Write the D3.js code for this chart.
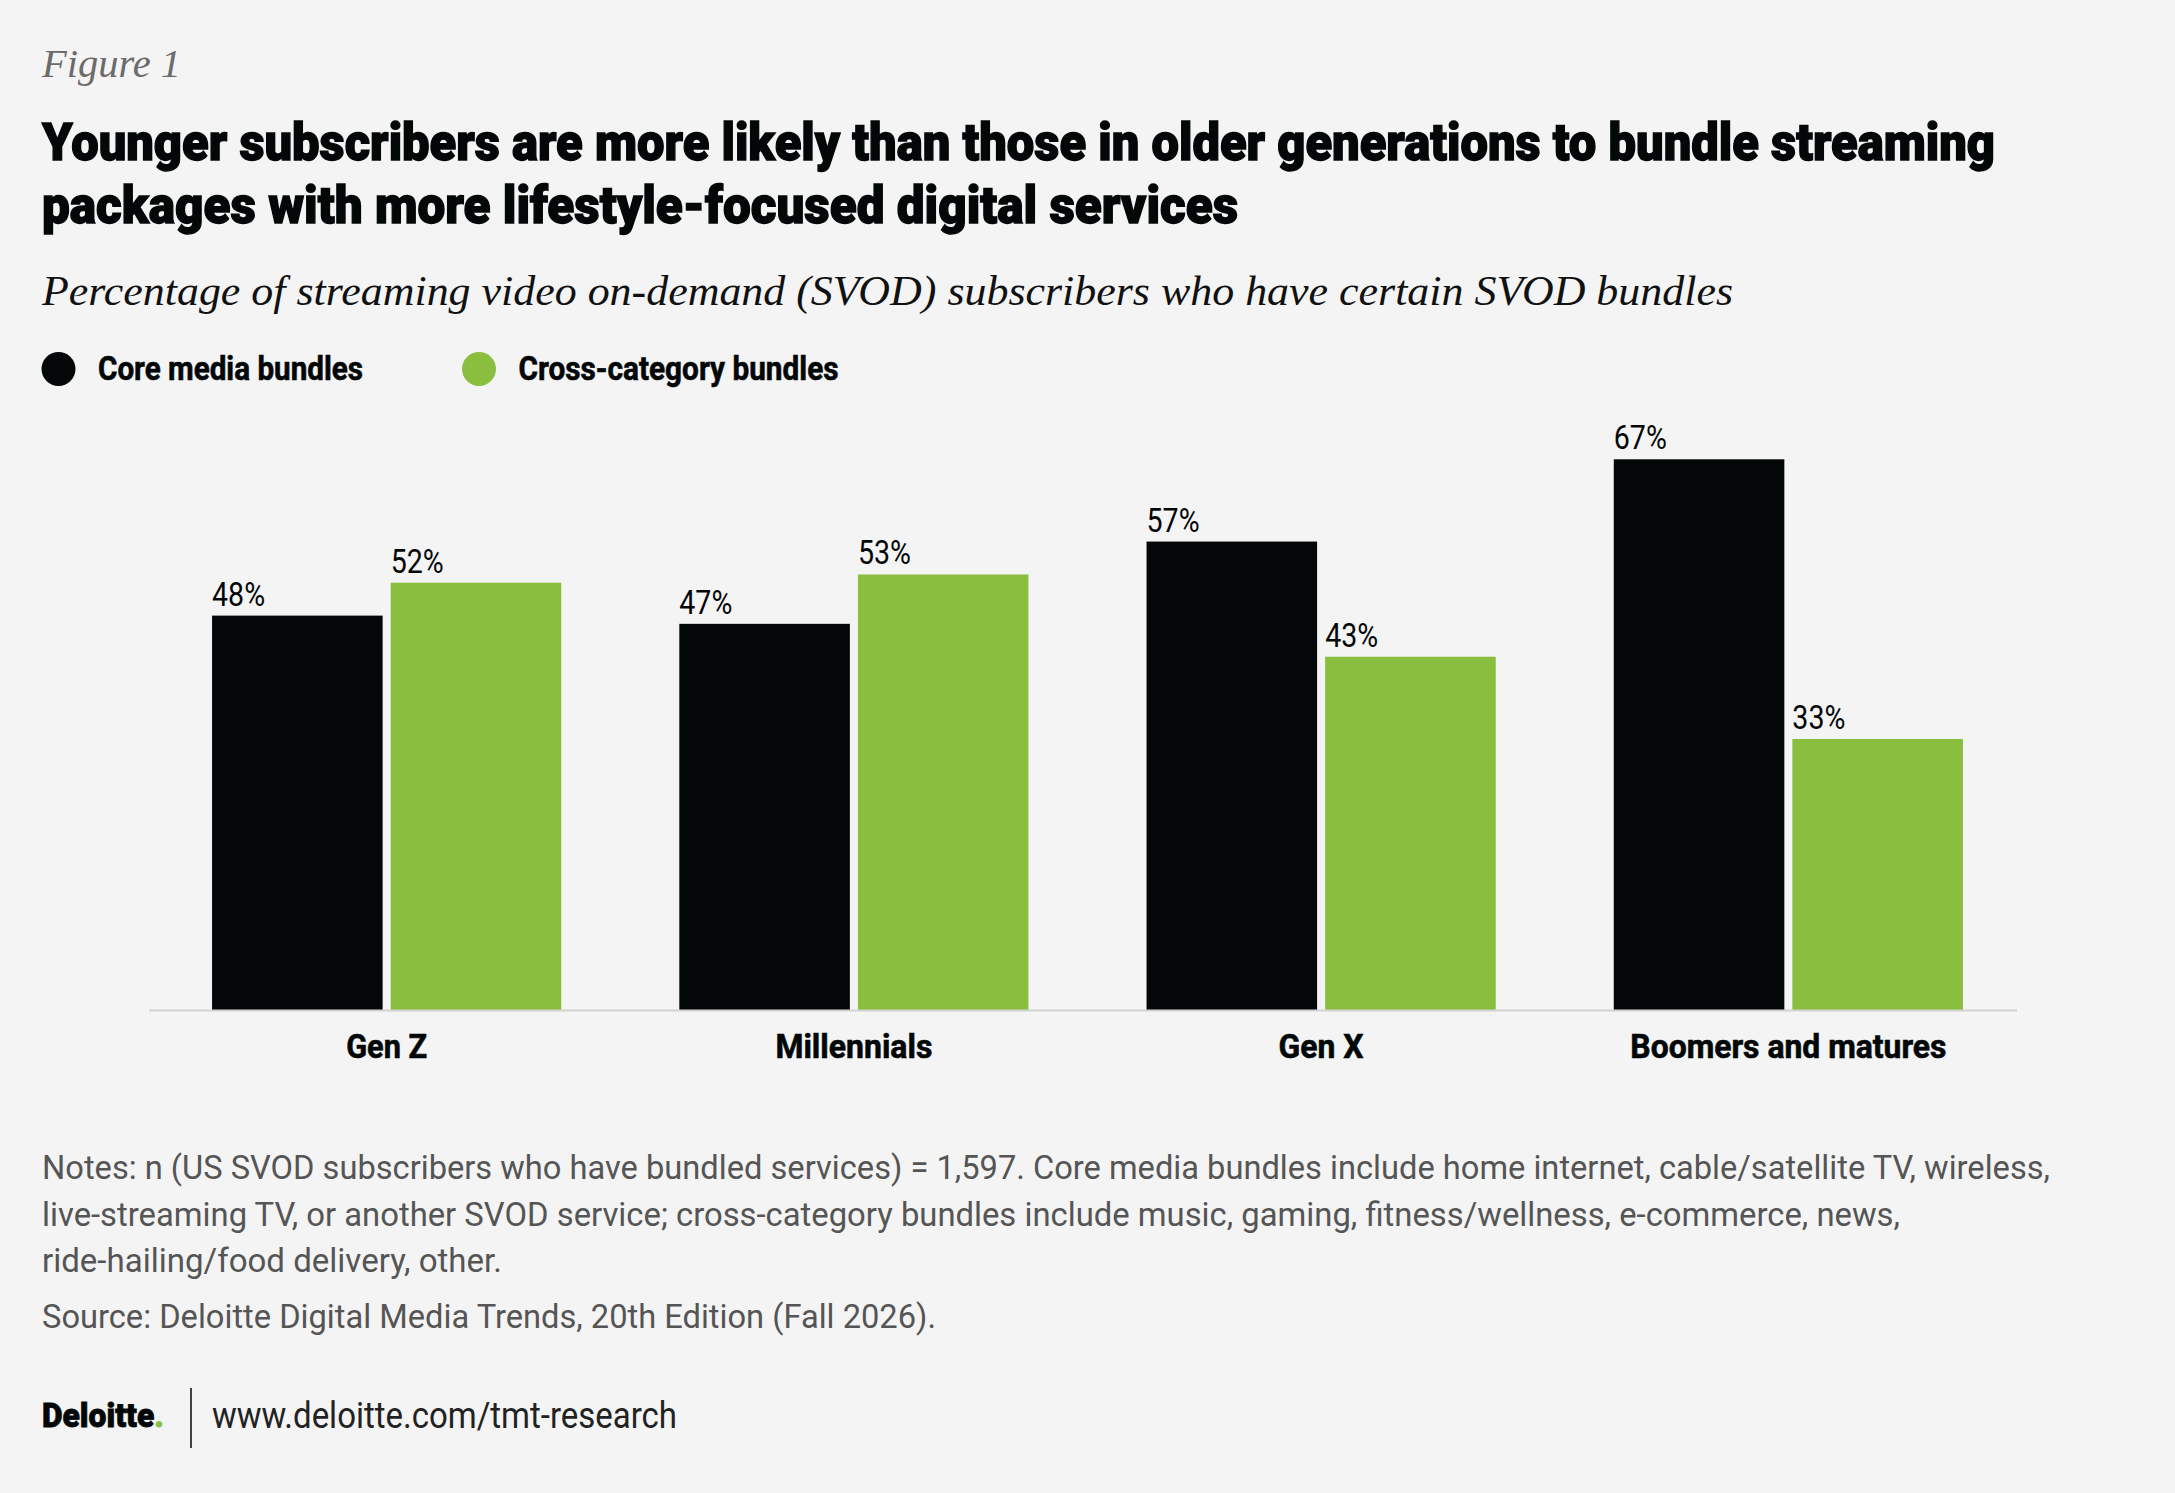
<!DOCTYPE html>
<html>
<head>
<meta charset="utf-8">
<script src="https://cdn.jsdelivr.net/npm/d3@7"></script>
<style>
  html, body { margin: 0; padding: 0; background: #f4f4f4; }
  svg { display: block; }
</style>
</head>
<body>
<div id="chart"></div>
<script>
// Chart values
const categories = ["Gen Z", "Millennials", "Gen X", "Boomers and matures"];
const seriesNames = ["Core media bundles", "Cross-category bundles"];
const coreValues = [48, 47, 57, 67];
const crossValues = [52, 53, 43, 33];

const figureLabel = "Figure 1";
const titleLines = [
  "Younger subscribers are more likely than those in older generations to bundle streaming",
  "packages with more lifestyle-focused digital services"
];
const subtitle = "Percentage of streaming video on-demand (SVOD) subscribers who have certain SVOD bundles";
const noteLines = [
  "Notes: n (US SVOD subscribers who have bundled services) = 1,597. Core media bundles include home internet, cable/satellite TV, wireless,",
  "live-streaming TV, or another SVOD service; cross-category bundles include music, gaming, fitness/wellness, e-commerce, news,",
  "ride-hailing/food delivery, other."
];
const sourceLine = "Source: Deloitte Digital Media Trends, 20th Edition (Fall 2026).";
const footerUrl = "www.deloitte.com/tmt-research";

// Layout
let width = 2175;
let height = 1493;
let left = 42;
let plot = {left: 149, right: 2017, bandLeft: 153, bandRight: 2022, bottom: 1010.5};

let colors = ["#030708", "#89be3f"];
let sans = "Roboto, 'Open Sans', 'Liberation Sans', sans-serif";
let serif = "'Liberation Serif', 'DejaVu Serif', serif";

let data = categories.map((c, i) => ({
  category: c,
  values: [
    {series: seriesNames[0], value: coreValues[i]},
    {series: seriesNames[1], value: crossValues[i]}
  ]
}));

var svg = d3.select("#chart")
  .append("svg")
    .attr("width", width)
    .attr("height", height);

svg.append("rect")
  .attr("width", width)
  .attr("height", height)
  .attr("fill", "#f4f4f4");

// squeeze a text to a given width (fonts here are wider than the original condensed ones)
function fit(sel, w) {
  sel.attr("textLength", w).attr("lengthAdjust", "spacingAndGlyphs");
  return sel;
}

// Header
svg.append("text")
  .attr("x", left).attr("y", 77)
  .style("font-family", serif).style("font-style", "italic")
  .style("font-size", "40px").attr("fill", "#6b6b6b")
  .text(figureLabel)
  .call(fit, 139);

let titleWidths = [1953, 1196];
titleLines.forEach((t, i) => {
  svg.append("text")
    .attr("x", left).attr("y", 160 + i * 63)
    .style("font-family", sans).style("font-weight", 900)
    .style("font-size", "52px").attr("fill", "#030708")
    .attr("stroke", "#030708").attr("stroke-width", 1.4)
    .text(t)
    .call(fit, titleWidths[i]);
});

svg.append("text")
  .attr("x", left).attr("y", 305)
  .style("font-family", serif).style("font-style", "italic")
  .style("font-size", "42px").attr("fill", "#111")
  .text(subtitle)
  .call(fit, 1691);

// Legend
let legendX = [58.5, 479];
let legendW = [265, 320];
let legend = svg.append("g");
seriesNames.forEach((s, i) => {
  legend.append("circle")
    .attr("cx", legendX[i]).attr("cy", 369).attr("r", 17)
    .attr("fill", colors[i]);
  legend.append("text")
    .attr("x", legendX[i] + 39.5).attr("y", 380)
    .style("font-family", sans).style("font-weight", 700)
    .style("font-size", "33px").attr("fill", "#030708")
    .attr("stroke", "#030708").attr("stroke-width", 0.6)
    .text(s)
    .call(fit, legendW[i]);
});

// Scales
var x0 = d3.scaleBand()
  .domain(categories)
  .range([plot.bandLeft, plot.bandRight])
  .paddingInner(0.2527)
  .paddingOuter(0.1264);

var x1 = d3.scaleBand()
  .domain(seriesNames)
  .range([0, x0.bandwidth()])
  .paddingInner(0.045);

var y = d3.scaleLinear()
  .domain([0, 100])
  .range([plot.bottom, plot.bottom - 822.7]);

var color = d3.scaleOrdinal()
  .domain(seriesNames)
  .range(colors);

// Bars
let groups = svg.append("g")
  .selectAll("g")
  .data(data)
  .enter()
  .append("g")
    .attr("transform", d => "translate(" + x0(d.category) + ",0)");

groups.selectAll("rect")
  .data(d => d.values)
  .enter()
  .append("rect")
    .attr("x", d => x1(d.series))
    .attr("y", d => y(d.value))
    .attr("width", x1.bandwidth())
    .attr("height", d => y(0) - y(d.value))
    .attr("fill", d => color(d.series));

groups.selectAll("text")
  .data(d => d.values)
  .enter()
  .append("text")
    .attr("class", "val")
    .attr("x", d => x1(d.series))
    .attr("y", d => y(d.value) - 10)
    .style("font-family", sans)
    .style("font-size", "34px")
    .attr("fill", "#030708")
    .text(d => d.value + "%");

svg.selectAll("text.val").each(function() {
  let w = this.getComputedTextLength();
  d3.select(this).call(fit, w * 0.84);
});

// X axis
let xAxis = svg.append("g")
  .attr("transform", "translate(0," + plot.bottom + ")")
  .call(d3.axisBottom(x0).tickSize(0).tickPadding(47.5));

xAxis.select(".domain").remove();
xAxis.append("line")
  .attr("x1", plot.left).attr("x2", plot.right)
  .attr("y1", 0).attr("y2", 0)
  .attr("stroke", "#d2d2d2").attr("stroke-width", 2);

let catW = {"Gen Z": 81, "Millennials": 157, "Gen X": 85, "Boomers and matures": 316};
xAxis.selectAll(".tick text")
  .style("font-family", sans).style("font-weight", 700)
  .style("font-size", "33px").attr("fill", "#030708")
  .attr("stroke", "#030708").attr("stroke-width", 0.6)
  .attr("dy", null)
  .each(function(d) { d3.select(this).call(fit, catW[d]); });

// Notes and source
let noteW = [2008, 1858, 460];
noteLines.forEach((t, i) => {
  svg.append("text")
    .attr("x", left).attr("y", 1179 + i * 46.5)
    .style("font-family", sans).style("font-size", "33px")
    .attr("fill", "#555")
    .text(t)
    .call(fit, noteW[i]);
});

svg.append("text")
  .attr("x", left).attr("y", 1328)
  .style("font-family", sans).style("font-size", "33px")
  .attr("fill", "#555")
  .text(sourceLine)
  .call(fit, 894);

// Footer
let logo = svg.append("text")
  .attr("x", left).attr("y", 1427)
  .style("font-family", sans).style("font-weight", 900)
  .style("font-size", "33px").attr("fill", "#030708")
  .attr("stroke", "#030708").attr("stroke-width", 0.8);
logo.append("tspan").text("Deloitte");
logo.append("tspan").attr("fill", colors[1]).attr("stroke", colors[1]).text(".");
logo.call(fit, 122);

svg.append("line")
  .attr("x1", 191).attr("x2", 191)
  .attr("y1", 1388).attr("y2", 1448)
  .attr("stroke", "#030708").attr("stroke-width", 1.5);

svg.append("text")
  .attr("x", 212).attr("y", 1428)
  .style("font-family", sans).style("font-size", "37px")
  .attr("fill", "#222")
  .text(footerUrl)
  .call(fit, 465);
</script>
</body>
</html>
